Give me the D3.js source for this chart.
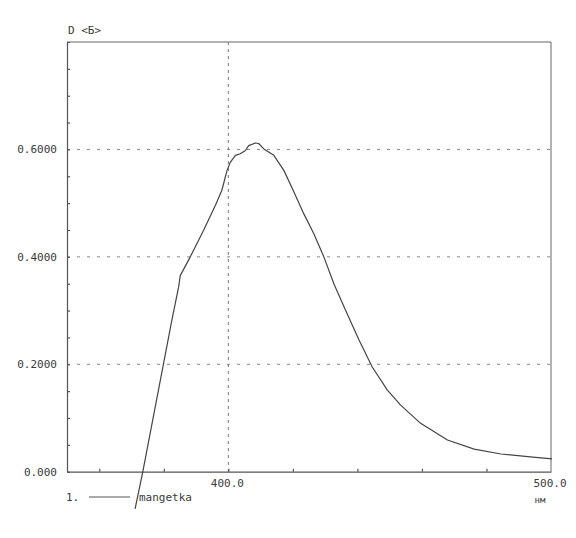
<!DOCTYPE html>
<html>
<head>
<meta charset="utf-8">
<script src="https://cdn.jsdelivr.net/npm/d3@7"></script>
<style>
  body { margin: 0; background: #fff; }
  text { font-family: "DejaVu Sans Mono", monospace; font-size: 11px; fill: #3a3a3a; }
</style>
</head>
<body>
<svg id="chart"></svg>
<script>
// spectrum (nm, optical density)
var wavelength = [371.1, 373.5, 382.5, 384.6, 385.1, 388.2, 392.3, 396.0, 398.0, 399.6,
                  400.6, 402.2, 403.7, 405.3, 406.3, 408.4, 409.4, 411.0, 414.1, 417.2,
                  420.3, 423.4, 426.5, 429.6, 432.7, 436.3, 440.5, 444.6, 449.3, 453.4,
                  459.6, 467.9, 476.2, 484.5, 492.8, 500.3];
var density = [-0.069, 0.000, 0.282, 0.344, 0.365, 0.400, 0.449, 0.496, 0.524, 0.561,
               0.576, 0.589, 0.592, 0.598, 0.607, 0.612, 0.611, 0.601, 0.589, 0.561,
               0.521, 0.480, 0.443, 0.400, 0.350, 0.301, 0.245, 0.195, 0.152, 0.124,
               0.090, 0.059, 0.042, 0.033, 0.028, 0.024];
var yTickValues = [0, 0.2, 0.4, 0.6];
var yTickLabels = ["0.000", "0.2000", "0.4000", "0.6000"];
var xTickValues = [400, 500];
var xTickLabels = ["400.0", "500.0"];
var seriesName = "mangetka";

var width = 576;
var height = 538;
var plotLeft = 67, plotRight = 551, plotTop = 42, plotBottom = 471.7;

var data = wavelength.map(function(w, i) { return { nm: w, D: density[i] }; });

var xScale = d3.scaleLinear().domain([350, 500]).range([plotLeft, plotRight]);
var yScale = d3.scaleLinear().domain([0, 0.8]).range([plotBottom, plotTop]);

var svg = d3.select("#chart")
    .attr("width", width)
    .attr("height", height);

svg.append("rect")
    .attr("width", width)
    .attr("height", height)
    .attr("fill", "#fff");

// dotted grid
svg.append("g")
    .selectAll("line")
    .data(yTickValues.filter(d => d > 0))
    .join("line")
    .attr("x1", plotLeft)
    .attr("x2", plotRight)
    .attr("y1", d => yScale(d))
    .attr("y2", d => yScale(d))
    .attr("stroke", "#888")
    .attr("stroke-width", 1)
    .attr("stroke-dasharray", "3,7");

svg.append("line")
    .attr("x1", xScale(400))
    .attr("x2", xScale(400))
    .attr("y1", plotTop)
    .attr("y2", plotBottom)
    .attr("stroke", "#777")
    .attr("stroke-width", 1)
    .attr("stroke-dasharray", "3,4");

// frame with inner ticks
var yAxis = d3.axisRight(yScale)
    .tickValues(d3.range(0, 0.8001, 0.05))
    .tickSize(3)
    .tickFormat("")
    .tickSizeOuter(0);
var xAxis = d3.axisTop(xScale)
    .tickValues(d3.range(360, 500, 20))
    .tickSize(3)
    .tickFormat("")
    .tickSizeOuter(0);

var gy = svg.append("g").attr("transform", "translate(" + plotLeft + ",0)").call(yAxis);
var gx = svg.append("g").attr("transform", "translate(0," + plotBottom + ")").call(xAxis);
[gy, gx].forEach(function(g) {
  g.selectAll("path, line").attr("stroke", "#555").attr("stroke-width", 1.2);
});

svg.append("line")
    .attr("x1", plotLeft).attr("x2", plotRight)
    .attr("y1", plotTop).attr("y2", plotTop)
    .attr("stroke", "#666").attr("stroke-width", 1);
svg.append("line")
    .attr("x1", plotRight).attr("x2", plotRight)
    .attr("y1", plotTop).attr("y2", plotBottom)
    .attr("stroke", "#666").attr("stroke-width", 1);

// tick labels
svg.append("g")
    .selectAll("text")
    .data(yTickValues)
    .join("text")
    .attr("x", 57)
    .attr("y", d => yScale(d) + 4)
    .attr("text-anchor", "end")
    .text((d, i) => yTickLabels[i]);

svg.append("g")
    .selectAll("text")
    .data(xTickValues)
    .join("text")
    .attr("x", d => xScale(d) - 1)
    .attr("y", 487)
    .attr("text-anchor", "middle")
    .text((d, i) => xTickLabels[i]);

svg.append("text")
    .attr("x", 540)
    .attr("y", 503)
    .attr("text-anchor", "middle")
    .style("font-size", "9px")
    .text("нм");

svg.append("text")
    .attr("x", 68)
    .attr("y", 34)
    .text("D <Б>");

// legend
svg.append("text")
    .attr("x", 66)
    .attr("y", 501)
    .text("1.");
svg.append("line")
    .attr("x1", 89).attr("x2", 130)
    .attr("y1", 497).attr("y2", 497)
    .attr("stroke", "#555").attr("stroke-width", 1);
svg.append("text")
    .attr("x", 139)
    .attr("y", 501)
    .text(seriesName);

// spectrum curve
var line = d3.line()
    .x(d => xScale(d.nm))
    .y(d => yScale(d.D));

svg.append("path")
    .datum(data)
    .attr("fill", "none")
    .attr("stroke", "#444")
    .attr("stroke-width", 1.2)
    .attr("stroke-linejoin", "round")
    .attr("d", line);
</script>
</body>
</html>
